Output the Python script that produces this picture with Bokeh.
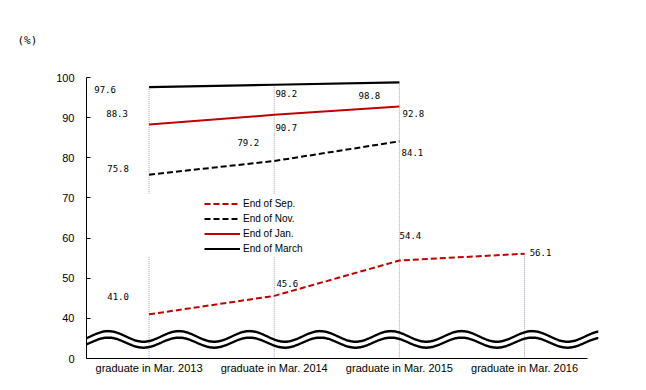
import numpy as np
from bokeh.plotting import figure
from bokeh.models import (Range1d, FixedTicker, ColumnDataSource, Legend,
                          LegendItem, PolyAnnotation)
from bokeh.core.properties import value
from bokeh.embed import file_html
from bokeh.resources import INLINE

# ---- data ----
categories = ["graduate in Mar. 2013", "graduate in Mar. 2014",
              "graduate in Mar. 2015", "graduate in Mar. 2016"]
sep = [41.0, 45.6, 54.4, 56.1]
nov = [75.8, 79.2, 84.1]
jan = [88.3, 90.7, 92.8]
mar = [97.6, 98.2, 98.8]
series_names = ["End of Sep.", "End of Nov.", "End of Jan.", "End of March"]
unit_label = "(%)"
# axis is broken below 40: the "0" tick sits one step under 40
y_ticks = [30, 40, 50, 60, 70, 80, 90, 100]
y_tick_labels = ["0", "40", "50", "60", "70", "80", "90", "100"]

# label offsets (pixels, screen)
sep_off = [(-31, -18), (13, -12), (11, -25), (16, -1)]
nov_off = [(-31, -6), (-26, -18), (13, 11)]
jan_off = [(-32, -11), (12, 13), (14, 7)]
mar_off = [(-44, 2), (12, 9), (-30, 13)]

RED = "#c00000"
BLACK = "#000000"

X_START, X_END = -0.5, 3.591
p = figure(width=638, height=382,
           x_range=Range1d(X_START, X_END), y_range=Range1d(30, 100),
           output_backend="svg", toolbar_location=None,
           min_border_left=86, min_border_right=40,
           min_border_top=77, min_border_bottom=24)
p.background_fill_color = "white"
p.border_fill_color = "white"
p.outline_line_color = None
p.xgrid.visible = False
p.ygrid.visible = False

p.title.text = unit_label
p.title.align = "left"
p.title.offset = -69
p.title.standoff = 62
p.title.text_font = "DejaVu Sans Mono"
p.title.text_font_size = "11px"
p.title.text_font_style = "normal"
p.title.text_color = BLACK

# x axis
xa = p.xaxis[0]
xa.ticker = FixedTicker(ticks=list(range(len(categories))))
xa.major_label_overrides = {i: c for i, c in enumerate(categories)}
xa.major_tick_line_color = None
xa.minor_tick_line_color = None
xa.major_tick_in = 0
xa.major_tick_out = 0
xa.bounds = (-0.5, len(categories) - 0.5)
xa.axis_line_color = BLACK
xa.major_label_standoff = 3
xa.major_label_text_font = "Liberation Sans"
xa.major_label_text_font_size = "11px"
xa.major_label_text_color = BLACK

# y axis
ya = p.yaxis[0]
ya.ticker = FixedTicker(ticks=y_ticks)
ya.major_label_overrides = {t: l for t, l in zip(y_ticks, y_tick_labels)}
ya.major_tick_in = 4
ya.major_tick_out = 0
ya.minor_tick_line_color = None
ya.axis_line_color = BLACK
ya.major_tick_line_color = BLACK
ya.major_label_standoff = 12
ya.major_label_text_font = "Liberation Sans"
ya.major_label_text_font_size = "11px"
ya.major_label_text_color = BLACK

# drop lines from highest value at each category down to axis
all_series = [sep, nov, jan, mar]
tops = []
for i in range(len(categories)):
    vals = [s[i] for s in all_series if i < len(s)]
    tops.append(max(vals))
xs_idx = list(range(len(categories)))
p.segment(x0=xs_idx, y0=tops, x1=xs_idx, y1=[y_ticks[0]] * len(xs_idx),
          line_color="#a8a0b4", line_width=1, line_dash="1 1")
# white legend backdrop
p.quad(left=[-0.1], right=[1.2], bottom=[55.5], top=[71.0],
       fill_color="white", line_color=None)

# wavy break marks (thin filled bands so they may extend past the axis)
wx = np.linspace(-0.684, X_END, 700)
period = 70.7 / 125.2
x0 = -0.609
phase = 2 * np.pi * (wx - x0) / period
half = 1.25 / 4.014
for centre, amp in [(35.5, 1.32), (33.95, 1.25)]:
    yc = centre - amp * np.cos(phase)
    xs = list(wx) + list(wx[::-1])
    ys = list(yc + half) + list((yc - half)[::-1])
    p.add_layout(PolyAnnotation(xs=xs, ys=ys, xs_units="data", ys_units="data",
                                fill_color=BLACK, fill_alpha=1.0,
                                line_color=None))

# series
r_sep = p.line(list(range(len(sep))), sep, line_color=RED, line_width=2, line_dash="6 3")
r_nov = p.line(list(range(len(nov))), nov, line_color=BLACK, line_width=2, line_dash="6 3")
r_jan = p.line(list(range(len(jan))), jan, line_color=RED, line_width=2)
r_mar = p.line(list(range(len(mar))), mar, line_color=BLACK, line_width=2.2)

# data labels
lx, ly, lt, ldx, ldy = [], [], [], [], []
for s, offs in zip([sep, nov, jan, mar], [sep_off, nov_off, jan_off, mar_off]):
    for i, v in enumerate(s):
        lx.append(i)
        ly.append(v)
        lt.append(f"{v:.1f}")
        ldx.append(offs[i][0])
        ldy.append(offs[i][1])
src = ColumnDataSource(dict(x=lx, y=ly, text=lt, dx=ldx, dy=ldy))
p.text(x="x", y="y", text="text", x_offset="dx", y_offset="dy", source=src,
       text_align="center", text_baseline="middle",
       text_font=value("DejaVu Sans Mono"), text_font_size="9px", text_color=BLACK)

legend = Legend(items=[LegendItem(label=n, renderers=[r])
                       for n, r in zip(series_names, [r_sep, r_nov, r_jan, r_mar])],
                location=(118, 102), orientation="vertical",
                glyph_width=36, glyph_height=15, label_height=15,
                label_standoff=3, spacing=0, padding=0, margin=0,
                border_line_color=None, background_fill_alpha=0,
                label_text_font="Liberation Sans", label_text_font_size="10px",
                label_text_color=BLACK)
p.add_layout(legend, "center")

open("out.html", "w").write(file_html(p, INLINE))
